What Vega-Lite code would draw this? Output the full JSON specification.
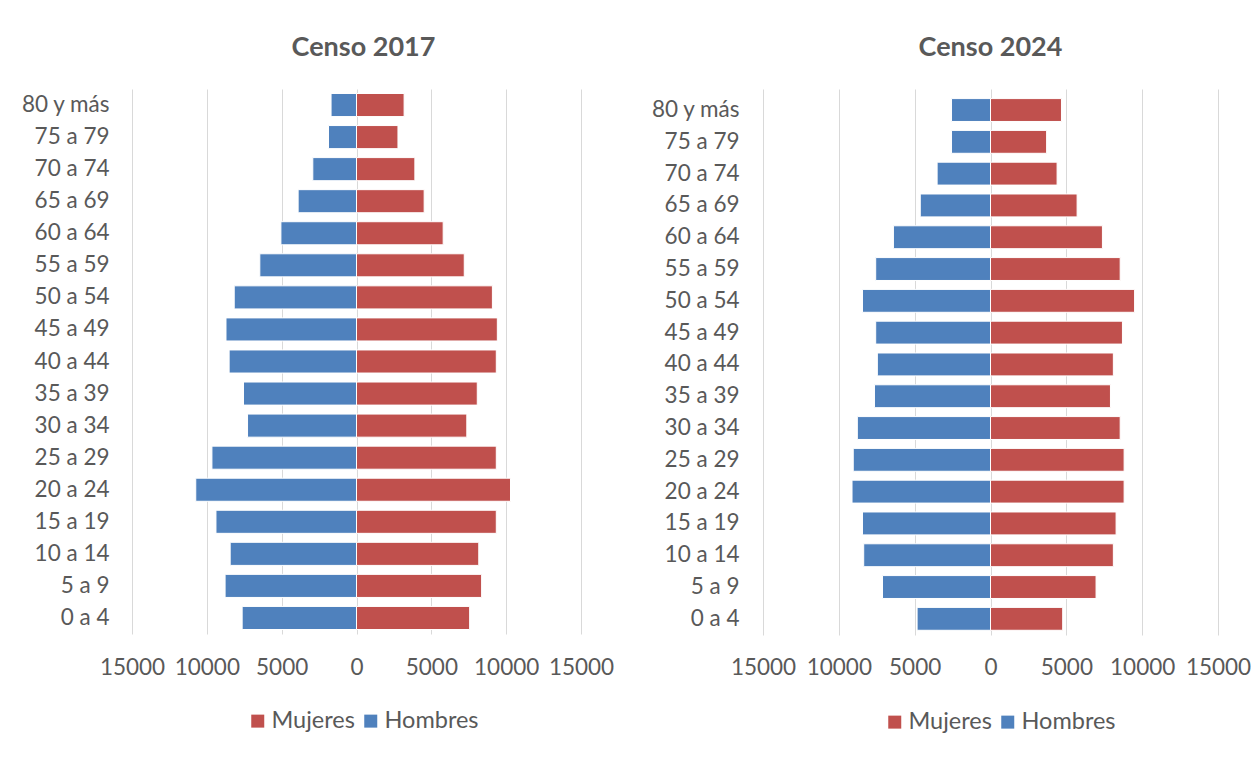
{
  "$schema": "https://vega.github.io/schema/vega-lite/v6.json",
  "background": "white",
  "padding": {"left": 20, "top": 34, "right": 0, "bottom": 0},
  "datasets": {
    "pop": [
      {"censo": 2017, "edad": "80 y más", "sexo": "Hombres", "poblacion": -1700},
      {"censo": 2017, "edad": "80 y más", "sexo": "Mujeres", "poblacion": 3180},
      {"censo": 2017, "edad": "75 a 79", "sexo": "Hombres", "poblacion": -1870},
      {"censo": 2017, "edad": "75 a 79", "sexo": "Mujeres", "poblacion": 2770},
      {"censo": 2017, "edad": "70 a 74", "sexo": "Hombres", "poblacion": -2920},
      {"censo": 2017, "edad": "70 a 74", "sexo": "Mujeres", "poblacion": 3900},
      {"censo": 2017, "edad": "65 a 69", "sexo": "Hombres", "poblacion": -3900},
      {"censo": 2017, "edad": "65 a 69", "sexo": "Mujeres", "poblacion": 4520},
      {"censo": 2017, "edad": "60 a 64", "sexo": "Hombres", "poblacion": -5050},
      {"censo": 2017, "edad": "60 a 64", "sexo": "Mujeres", "poblacion": 5790},
      {"censo": 2017, "edad": "55 a 59", "sexo": "Hombres", "poblacion": -6460},
      {"censo": 2017, "edad": "55 a 59", "sexo": "Mujeres", "poblacion": 7200},
      {"censo": 2017, "edad": "50 a 54", "sexo": "Hombres", "poblacion": -8170},
      {"censo": 2017, "edad": "50 a 54", "sexo": "Mujeres", "poblacion": 9080},
      {"censo": 2017, "edad": "45 a 49", "sexo": "Hombres", "poblacion": -8720},
      {"censo": 2017, "edad": "45 a 49", "sexo": "Mujeres", "poblacion": 9410},
      {"censo": 2017, "edad": "40 a 44", "sexo": "Hombres", "poblacion": -8510},
      {"censo": 2017, "edad": "40 a 44", "sexo": "Mujeres", "poblacion": 9340},
      {"censo": 2017, "edad": "35 a 39", "sexo": "Hombres", "poblacion": -7550},
      {"censo": 2017, "edad": "35 a 39", "sexo": "Mujeres", "poblacion": 8070},
      {"censo": 2017, "edad": "30 a 34", "sexo": "Hombres", "poblacion": -7280},
      {"censo": 2017, "edad": "30 a 34", "sexo": "Mujeres", "poblacion": 7370},
      {"censo": 2017, "edad": "25 a 29", "sexo": "Hombres", "poblacion": -9660},
      {"censo": 2017, "edad": "25 a 29", "sexo": "Mujeres", "poblacion": 9340},
      {"censo": 2017, "edad": "20 a 24", "sexo": "Hombres", "poblacion": -10740},
      {"censo": 2017, "edad": "20 a 24", "sexo": "Mujeres", "poblacion": 10290},
      {"censo": 2017, "edad": "15 a 19", "sexo": "Hombres", "poblacion": -9390},
      {"censo": 2017, "edad": "15 a 19", "sexo": "Mujeres", "poblacion": 9340},
      {"censo": 2017, "edad": "10 a 14", "sexo": "Hombres", "poblacion": -8440},
      {"censo": 2017, "edad": "10 a 14", "sexo": "Mujeres", "poblacion": 8170},
      {"censo": 2017, "edad": "5 a 9", "sexo": "Hombres", "poblacion": -8780},
      {"censo": 2017, "edad": "5 a 9", "sexo": "Mujeres", "poblacion": 8360},
      {"censo": 2017, "edad": "0 a 4", "sexo": "Hombres", "poblacion": -7640},
      {"censo": 2017, "edad": "0 a 4", "sexo": "Mujeres", "poblacion": 7560},
      {"censo": 2024, "edad": "80 y más", "sexo": "Hombres", "poblacion": -2570},
      {"censo": 2024, "edad": "80 y más", "sexo": "Mujeres", "poblacion": 4680},
      {"censo": 2024, "edad": "75 a 79", "sexo": "Hombres", "poblacion": -2570},
      {"censo": 2024, "edad": "75 a 79", "sexo": "Mujeres", "poblacion": 3700},
      {"censo": 2024, "edad": "70 a 74", "sexo": "Hombres", "poblacion": -3520},
      {"censo": 2024, "edad": "70 a 74", "sexo": "Mujeres", "poblacion": 4390},
      {"censo": 2024, "edad": "65 a 69", "sexo": "Hombres", "poblacion": -4630},
      {"censo": 2024, "edad": "65 a 69", "sexo": "Mujeres", "poblacion": 5710},
      {"censo": 2024, "edad": "60 a 64", "sexo": "Hombres", "poblacion": -6400},
      {"censo": 2024, "edad": "60 a 64", "sexo": "Mujeres", "poblacion": 7380},
      {"censo": 2024, "edad": "55 a 59", "sexo": "Hombres", "poblacion": -7570},
      {"censo": 2024, "edad": "55 a 59", "sexo": "Mujeres", "poblacion": 8550},
      {"censo": 2024, "edad": "50 a 54", "sexo": "Hombres", "poblacion": -8440},
      {"censo": 2024, "edad": "50 a 54", "sexo": "Mujeres", "poblacion": 9500},
      {"censo": 2024, "edad": "45 a 49", "sexo": "Hombres", "poblacion": -7570},
      {"censo": 2024, "edad": "45 a 49", "sexo": "Mujeres", "poblacion": 8700},
      {"censo": 2024, "edad": "40 a 44", "sexo": "Hombres", "poblacion": -7460},
      {"censo": 2024, "edad": "40 a 44", "sexo": "Mujeres", "poblacion": 8100},
      {"censo": 2024, "edad": "35 a 39", "sexo": "Hombres", "poblacion": -7650},
      {"censo": 2024, "edad": "35 a 39", "sexo": "Mujeres", "poblacion": 7910},
      {"censo": 2024, "edad": "30 a 34", "sexo": "Hombres", "poblacion": -8780},
      {"censo": 2024, "edad": "30 a 34", "sexo": "Mujeres", "poblacion": 8550},
      {"censo": 2024, "edad": "25 a 29", "sexo": "Hombres", "poblacion": -9050},
      {"censo": 2024, "edad": "25 a 29", "sexo": "Mujeres", "poblacion": 8810},
      {"censo": 2024, "edad": "20 a 24", "sexo": "Hombres", "poblacion": -9130},
      {"censo": 2024, "edad": "20 a 24", "sexo": "Mujeres", "poblacion": 8810},
      {"censo": 2024, "edad": "15 a 19", "sexo": "Hombres", "poblacion": -8440},
      {"censo": 2024, "edad": "15 a 19", "sexo": "Mujeres", "poblacion": 8280},
      {"censo": 2024, "edad": "10 a 14", "sexo": "Hombres", "poblacion": -8360},
      {"censo": 2024, "edad": "10 a 14", "sexo": "Mujeres", "poblacion": 8100},
      {"censo": 2024, "edad": "5 a 9", "sexo": "Hombres", "poblacion": -7120},
      {"censo": 2024, "edad": "5 a 9", "sexo": "Mujeres", "poblacion": 6960},
      {"censo": 2024, "edad": "0 a 4", "sexo": "Hombres", "poblacion": -4840},
      {"censo": 2024, "edad": "0 a 4", "sexo": "Mujeres", "poblacion": 4760}
    ]
  },
  "data": {"name": "pop"},
  "config": {
    "font": "Lato",
    "view": {"stroke": null},
    "axis": {"labelColor": "#595959", "labelFontSize": 22.5, "labelFont": "Lato", "grid": false, "domain": false, "ticks": false, "title": null},
    "title": {"fontSize": 27, "fontWeight": "bold", "color": "#595959", "font": "Lato", "anchor": "middle", "offset": 27},
    "legend": {"orient": "none", "direction": "horizontal", "title": null, "symbolType": "square", "symbolSize": 169, "symbolStrokeWidth": 0, "labelFontSize": 23.5, "labelColor": "#595959", "labelFont": "Lato", "labelOffset": 2, "columnPadding": 4, "symbolOpacity": 1}
  },
  "resolve": {"legend": {"color": "independent"}},
  "spacing": 36,
  "hconcat": [
    {
      "title": {"text": "Censo 2017", "dx": 7},
      "width": 449,
      "height": 545,
      "transform": [{"filter": "datum.censo == 2017"}],
      "mark": {"type": "bar", "stroke": "white", "strokeWidth": 1},
      "encoding": {
        "y": {"field": "edad", "type": "nominal", "sort": ["80 y más", "75 a 79", "70 a 74", "65 a 69", "60 a 64", "55 a 59", "50 a 54", "45 a 49", "40 a 44", "35 a 39", "30 a 34", "25 a 29", "20 a 24", "15 a 19", "10 a 14", "5 a 9", "0 a 4"], "scale": {"paddingInner": 0.28, "paddingOuter": 0.14}, "axis": {"labelPadding": 23}},
        "x": {"field": "poblacion", "type": "quantitative", "scale": {"domain": [-15000, 15000], "nice": false}, "axis": {"values": [-15000, -10000, -5000, 0, 5000, 10000, 15000], "grid": true, "gridColor": "#D9D9D9", "labelExpr": "format(abs(datum.value), 'd')", "labelPadding": 22, "labelOverlap": false, "labelFlush": false}},
        "color": {"field": "sexo", "type": "nominal", "scale": {"domain": ["Mujeres", "Hombres"], "range": ["#C0504D", "#4F81BD"]}, "legend": {"legendX": 114, "legendY": 620}}
      }
    },
    {
      "title": {"text": "Censo 2024"},
      "width": 455,
      "height": 546,
      "transform": [{"filter": "datum.censo == 2024"}],
      "mark": {"type": "bar", "stroke": "white", "strokeWidth": 1},
      "encoding": {
        "y": {"field": "edad", "type": "nominal", "sort": ["80 y más", "75 a 79", "70 a 74", "65 a 69", "60 a 64", "55 a 59", "50 a 54", "45 a 49", "40 a 44", "35 a 39", "30 a 34", "25 a 29", "20 a 24", "15 a 19", "10 a 14", "5 a 9", "0 a 4"], "scale": {"paddingInner": 0.28, "paddingOuter": 0.225, "align": 0.67}, "axis": {"labelPadding": 24}},
        "x": {"field": "poblacion", "type": "quantitative", "scale": {"domain": [-15000, 15000], "nice": false}, "axis": {"values": [-15000, -10000, -5000, 0, 5000, 10000, 15000], "grid": true, "gridColor": "#D9D9D9", "labelExpr": "format(abs(datum.value), 'd')", "labelPadding": 21, "labelOverlap": false, "labelFlush": false}},
        "color": {"field": "sexo", "type": "nominal", "scale": {"domain": ["Mujeres", "Hombres"], "range": ["#C0504D", "#4F81BD"]}, "legend": {"legendX": 120, "legendY": 621}}
      }
    }
  ]
}
